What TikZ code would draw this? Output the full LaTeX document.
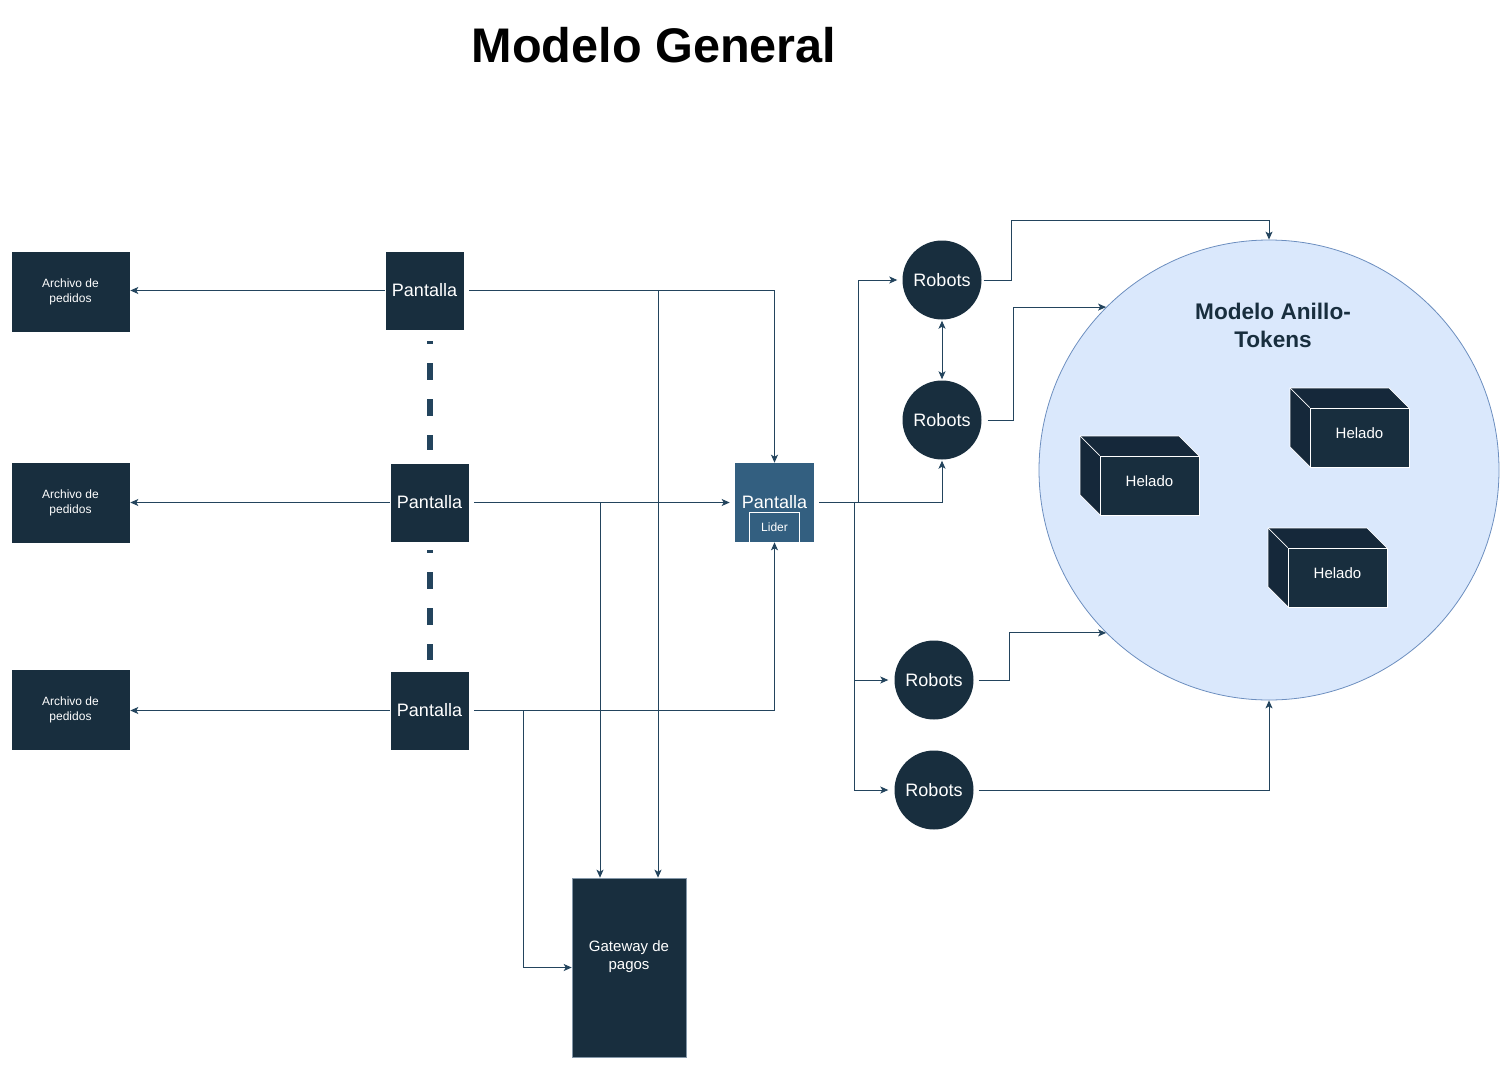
\documentclass[tikz,border=0pt]{standalone}
\usepackage{fontspec}
\setmainfont{Liberation Sans}
\usetikzlibrary{arrows.meta}

\definecolor{navy}{HTML}{182E3E}
\definecolor{navyside}{HTML}{15283A}
\definecolor{lidercol}{HTML}{335F80}
\definecolor{linkcol}{HTML}{23445D}
\definecolor{gatewaydraw}{HTML}{8497A8}
\definecolor{anillofill}{HTML}{DAE8FC}
\definecolor{anillodraw}{HTML}{6C8EBF}

\newcommand\archivostyle{\fontsize{12}{15}\selectfont}
\newcommand\pantallastyle{\fontsize{18}{21}\selectfont}
\newcommand\heladostyle{\fontsize{15}{18}\selectfont}
\newcommand\titulostyle{\bfseries\fontsize{48.6}{56}\selectfont}
\newcommand\anillostyle{\bfseries\fontsize{22.6}{28}\selectfont}
\newcommand\heladodepth{20}
\newcommand\heladowidth{119}
\newcommand\heladoheight{79}
% cubo: nombre, esquina superior izquierda
\newcommand\helado[3]{
  \draw[cubeline, fill=navyside] (#2, #3) -- ++ (\heladowidth - \heladodepth, 0) -- ++ (\heladodepth, \heladodepth)
    -- ++ (0, \heladoheight - \heladodepth) -- ++ (\heladodepth - \heladowidth, 0) -- ++ (-\heladodepth, -\heladodepth) -- cycle ;
  \node[heladoface] (#1) at (#2 + 0.5 * \heladowidth + 0.5 * \heladodepth, #3 + 0.5 * \heladoheight + 0.5 * \heladodepth) {Helado} ;
  \draw[cubeline] (#2, #3) -- (#1.north west) ;
}

\tikzset{
  navybox/.style={fill=navy, draw=white, line width=0.6pt, text=white, align=center, inner sep=0pt},
  archivo/.style={navybox, minimum width=119pt, minimum height=81pt, font=\archivostyle},
  pantalla/.style={navybox, minimum width=79pt, minimum height=79pt, font=\pantallastyle},
  robot/.style={circle, fill=navy, text=white, minimum size=79pt, inner sep=0pt, font=\pantallastyle},
  cubeline/.style={draw=white, line width=0.7pt},
  heladoface/.style={navybox, line width=0.7pt, minimum width=99pt, minimum height=59pt, text depth=8pt, font=\heladostyle},
  link/.style={draw=linkcol, line width=1pt, -{Stealth[length=8pt, width=7pt, inset=2pt]}},
  dashlink/.style={draw=linkcol, line width=6pt, dash pattern=on 17pt off 19pt, dash phase=14pt},
}

\begin{document}
\begin{tikzpicture}[x=1pt, y=-1pt]
  \useasboundingbox (0, 0) rectangle (1510, 1068) ;
  \node[font=\titulostyle] (titulo) at (654, 45) {Modelo General} ;

  \node[archivo] (arch1) at (70.5, 291.5) {Archivo de\\pedidos} ;
  \node[archivo] (arch2) at (70.5, 502.5) {Archivo de\\pedidos} ;
  \node[archivo] (arch3) at (70.5, 709.5) {Archivo de\\pedidos} ;

  \node[pantalla] (pant1) at (424.5, 290.5) {Pantalla} ;
  \node[pantalla] (pant2) at (429.5, 502.5) {Pantalla} ;
  \node[pantalla] (pant3) at (429.5, 710.5) {Pantalla} ;

  \node[pantalla, fill=lidercol, draw=none] (lider) at (774.5, 502.5) {Pantalla} ;
  \node[navybox, fill=lidercol, line width=0.8pt, minimum width=50pt, minimum height=30pt, font=\archivostyle] (liderin) at (774.5, 527) {Lider} ;

  \node[navybox, draw=gatewaydraw, minimum width=114pt, minimum height=179pt] (gateway) at (629, 967.5) {} ;
  \node[text=white, align=center, font=\heladostyle] (gatewaytxt) at (629, 957) {Gateway de\\pagos} ;

  \node[robot] (robot1) at (942, 280) {Robots} ;
  \node[robot] (robot2) at (942, 420) {Robots} ;
  \node[robot] (robot3) at (934, 680) {Robots} ;
  \node[robot] (robot4) at (934, 790) {Robots} ;

  % anillo de tokens
  \node[circle, fill=anillofill, draw=anillodraw, line width=0.8pt, minimum size=460pt, inner sep=0pt] (anillo) at (1269, 470) {} ;
  \node[font=\anillostyle, text=navy, align=center] (anillotit) at (1273, 325) {Modelo Anillo-\\Tokens} ;
  \helado{helado1}{1080}{436}
  \helado{helado2}{1290}{388}
  \helado{helado3}{1268}{528}

  % pantallas
  \draw[dashlink, shorten <=11pt, shorten >=13pt] (pant1.south -| pant2.north) -- (pant2.north) ;
  \draw[dashlink, shorten <=8pt, shorten >=11pt] (pant2.south) -- (pant3.north) ;
  \draw[link] (pant1.west) -- (arch1.east |- pant1.west) ;
  \draw[link] (pant2.west) -- (arch2.east |- pant2.west) ;
  \draw[link] (pant3.west) -- (arch3.east |- pant3.west) ;
  \draw[link, shorten <=5pt] (pant1.east) -| (lider.north) ;
  \draw[link, shorten <=5pt] (pant1.east) -| ([xshift=29pt]gateway.north) ;
  \draw[link, shorten <=5pt, shorten >=5pt] (pant2.east) -- (lider.west) ;
  \draw[link, shorten <=5pt] (pant2.east) -| ([xshift=-29pt]gateway.north) ;
  \draw[link, shorten <=5pt] (pant3.east) -| (lider.south) ;
  \draw[link, shorten <=5pt] (pant3.east) -- ++ (54, 0) |- (gateway.west) ;

  % robots
  \draw[link, shorten <=5pt, shorten >=1pt] (lider.east) -| (robot2.south) ;
  \draw[link, shorten <=5pt, shorten >=5pt] (lider.east) -- ++ (44, 0) |- (robot1.west) ;
  \draw[link, shorten <=5pt, shorten >=6pt] (lider.east) -- ++ (40, 0) |- (robot3.west) ;
  \draw[link, shorten <=5pt, shorten >=6pt] (lider.east) -- ++ (40, 0) |- (robot4.west) ;
  \draw[link, {Stealth[length=8pt, width=7pt, inset=2pt]}-{Stealth[length=8pt, width=7pt, inset=2pt]}, shorten <=1pt, shorten >=1pt] (robot1.south) -- (robot2.north) ;
  \draw[link, shorten <=2pt] (robot1.east) -- ++ (30, 0) |- ([yshift=19pt]anillo.north) -- (anillo.north) ;
  \draw[link, shorten <=6pt] (robot2.east) -- ++ (32, 0) |- (anillo.135) ;
  \draw[link, shorten <=5pt] (robot3.east) -- ++ (36, 0) |- (anillo.225) ;
  \draw[link, shorten <=5pt] (robot4.east) -| (anillo.south) ;
\end{tikzpicture}
\end{document}
